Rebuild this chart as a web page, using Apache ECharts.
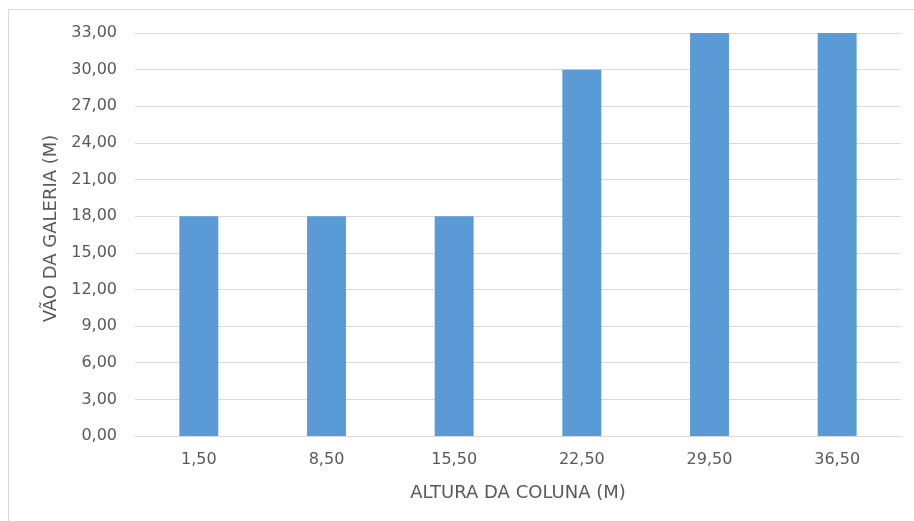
<!DOCTYPE html>
<html>
<head>
<meta charset="utf-8">
<script src="https://cdn.jsdelivr.net/npm/echarts@6/dist/echarts.min.js"></script>
<style>
  html, body { margin: 0; padding: 0; background: #fff; }
  #chart { width: 914px; height: 521px; }
</style>
</head>
<body>
<div id="chart"></div>
<script>
// Altura da coluna (m) e vão da galeria (m)
const categories = ['1,50', '8,50', '15,50', '22,50', '29,50', '36,50'];
const spans = [18, 18, 18, 30, 33, 33];
const yMin = 0, yMax = 33, yStep = 3;

const fmt = v => v.toFixed(2).replace('.', ',');
const FONT = 'DejaVu Sans';

const chart = echarts.init(document.getElementById('chart'));
chart.setOption({
  animation: false,
  backgroundColor: '#fff',
  graphic: [{
    type: 'rect',
    shape: { x: 8.5, y: 9.5, width: 920, height: 530 },
    style: { fill: 'none', stroke: '#d9d9d9', lineWidth: 1 },
    silent: true
  }],
  grid: { left: 135, right: 13, top: 33, bottom: 85 },
  xAxis: {
    type: 'category',
    data: categories,
    name: 'ALTURA DA COLUNA (M)',
    nameLocation: 'middle',
    nameGap: 48,
    nameTextStyle: { color: '#595959', fontSize: 18, fontFamily: FONT },
    axisLine: { lineStyle: { color: '#d9d9d9', width: 1 } },
    axisTick: { show: false },
    axisLabel: { color: '#595959', fontSize: 16, fontFamily: FONT, margin: 16 }
  },
  yAxis: {
    type: 'value',
    min: yMin, max: yMax, interval: yStep,
    name: 'VÃO DA GALERIA (M)',
    nameLocation: 'middle',
    nameGap: 73,
    nameRotate: 90,
    nameTextStyle: { color: '#595959', fontSize: 18, fontFamily: FONT, padding: [0, 0, 0, 12] },
    axisLine: { show: false },
    axisTick: { show: false },
    splitLine: { lineStyle: { color: '#d9d9d9', width: 1 } },
    axisLabel: { color: '#595959', fontSize: 16, fontFamily: FONT, margin: 18, formatter: fmt }
  },
  series: [{
    type: 'bar',
    data: spans,
    barWidth: '30.5%',
    itemStyle: { color: '#5b9bd5' }
  }]
});
</script>
</body>
</html>
